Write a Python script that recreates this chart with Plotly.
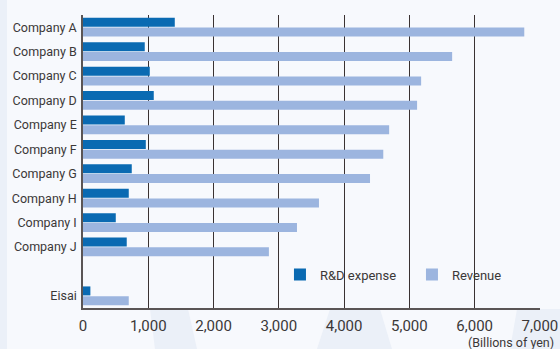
import plotly.graph_objects as go

# Pharmaceutical companies: R&D expense vs. revenue (billions of yen)
companies = ["Company A", "Company B", "Company C", "Company D", "Company E",
             "Company F", "Company G", "Company H", "Company I", "Company J", "Eisai"]
rd_expense = [1406, 946, 1023, 1084, 640, 962, 747, 701, 502, 670, 113]
revenue = [6760, 5655, 5180, 5118, 4690, 4600, 4397, 3615, 3278, 2848, 701]

x_ticks = [0, 1000, 2000, 3000, 4000, 5000, 6000, 7000]
x_tick_labels = ["0", "1,000", "2,000", "3,000", "4,000", "5,000", "6,000", "7,000"]
x_grid = [1000, 2000, 3000, 4000, 5000, 6000]

# Eisai sits one empty slot below the peer group
slots = list(range(len(companies) - 1)) + [len(companies)]

DARK_BLUE = "#0a6ab2"
LIGHT_BLUE = "#9cb5df"
TEXT = "#3b3838"
FONT = "Roboto, sans-serif"
BG = "#f7f9fd"
DECOR = "#ebf0f8"

fig = go.Figure()
fig.add_trace(go.Bar(y=slots, x=rd_expense, orientation="h", name="R&D expense",
                     marker=dict(color=DARK_BLUE, line=dict(width=0))))
fig.add_trace(go.Bar(y=slots, x=revenue, orientation="h", name="Revenue",
                     marker=dict(color=LIGHT_BLUE, line=dict(width=0))))

# Faint decorative bands in the background
def px_to_paper(px, py):
    return (px - 83) / 457, (308 - py) / 293

def band(points):
    pts = [px_to_paper(a, b) for a, b in points]
    path = "M " + " L ".join(f"{a:.4f},{b:.4f}" for a, b in pts) + " Z"
    fig.add_shape(type="path", path=path, xref="paper", yref="paper",
                  fillcolor=DECOR, line=dict(width=0), layer="below")

band([(0, 0), (7, 0), (7, 349), (0, 349)])
band([(150, 309), (188, 309), (197, 349), (155, 349)])
band([(330, 309), (380, 309), (392, 349), (317, 349)])
band([(517, 309), (560, 309), (560, 349), (510, 349)])

fig.add_annotation(text="(Billions of yen)", xref="paper", yref="paper",
                   x=1.035, y=-0.118, xanchor="right", yanchor="middle",
                   showarrow=False, font=dict(family=FONT, size=12.5, color=TEXT))

fig.update_layout(
    width=560, height=349,
    margin=dict(l=83, r=20, t=15, b=41, autoexpand=False),
    paper_bgcolor=BG, plot_bgcolor="rgba(0,0,0,0)",
    barmode="group", bargap=0.2, bargroupgap=0.08,
    font=dict(family=FONT, color=TEXT),
    legend=dict(orientation="h", x=0.431, y=0.114, xanchor="left", yanchor="middle",
                bgcolor="rgba(0,0,0,0)", font=dict(size=13, color=TEXT),
                traceorder="normal", entrywidth=87, itemwidth=30),
    xaxis=dict(range=[0, 7001], tickvals=x_ticks, ticktext=x_tick_labels,
               showgrid=False, automargin=False,
               minor=dict(tickvals=x_grid, showgrid=True, gridcolor="#3a3232",
                          gridwidth=1, ticks=""),
               showline=True, linecolor="#5a5555", linewidth=1.5,
               zeroline=False, ticks="", ticklabelstandoff=3,
               tickfont=dict(size=15, color=TEXT)),
    yaxis=dict(range=[len(companies) + 0.5, -0.5], tickvals=slots, ticktext=companies,
               showgrid=False, zeroline=False, showline=True, automargin=False,
               linecolor="#5a5555", linewidth=1.5, ticks="",
               tickfont=dict(size=12.5, color=TEXT), ticklabelstandoff=2),
)

fig.write_html("out.html")
